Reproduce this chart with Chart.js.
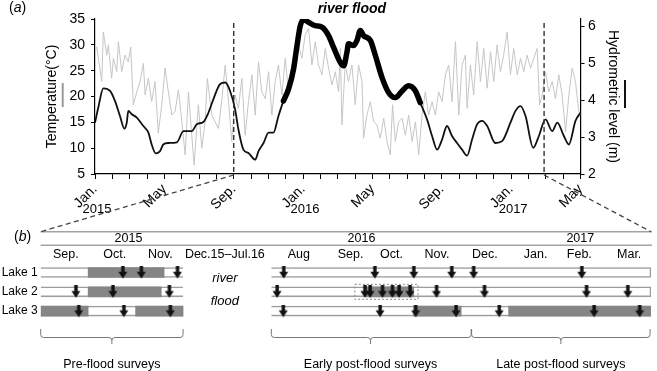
<!DOCTYPE html>
<html lang="en">
<head>
  <meta charset="UTF-8" />
  <title>River flood - temperature, hydrometric level and surveys</title>
  <script src="https://cdn.jsdelivr.net/npm/chart.js@4"></script>
  <style>
    body { margin: 0; background: #fff; }
    .wrap { position: relative; width: 657px; height: 371px; }
    .wrap canvas { position: absolute; left: 0; top: 0; }
  </style>
</head>
<body>
  <div class="wrap">
    <canvas id="chartTop" width="657" height="371"></canvas>
    <canvas id="chartSurveys" width="657" height="371"></canvas>
  </div>
  <script>
    // ---- panel (a): months since Jan 2015 ----
    const tickMonths = [0, 4, 8, 12, 16, 20, 24, 28];
    const tickNames = ["Jan.", "May", "Sep.", "Jan.", "May", "Sep.", "Jan.", "May"];
    const yearMonths = [0, 12, 24];
    const yearNames = ["2015", "2016", "2017"];
    const tempTicks = [5, 10, 15, 20, 25, 30, 35];
    const levelTicks = [2, 3, 4, 5, 6];
    const floodWindow = [10.87, 18.76];
    const surveyCuts = [8, 25.9];

    const tempMonth = [0,0.10,0.39,0.48,0.68,0.77,0.96,1.06,1.25,1.35,
      1.54,1.73,1.92,2.06,2.21,2.41,2.60,2.79,2.89,3.08,
      3.27,3.46,3.65,3.85,4.04,4.23,4.43,4.62,4.81,5.01,
      5.20,5.39,5.58,5.72,5.96,6.16,6.35,6.48,6.74,6.93,
      7.12,7.32,7.51,7.70,7.89,8.08,8.27,8.47,8.66,8.85,
      9.05,9.24,9.43,9.62,9.82,10.01,10.20,10.39,10.58,10.78,
      10.97,11.16,11.36,11.55,11.74,11.93,12.12,12.32,12.51,12.70,
      12.89,13.09,13.28,13.47,13.67,13.86,14.05,14.15,14.24,14.43,
      14.62,14.82,15.01,15.20,15.40,15.49,15.68,15.88,16.07,16.26,
      16.45,16.65,16.84,17.03,17.16,17.32,17.51,17.71,17.90,18.09,
      18.29,18.48,18.67,18.86,19.05,19.24,19.44,19.63,19.82,20.02,
      20.21,20.40,20.59,20.79,20.98,21.17,21.36,21.46,21.65,21.84,
      22.04,22.23,22.42,22.62,22.81,23.00,23.19,23.38,23.57,23.77,
      23.96,24.15,24.35,24.54,24.73,24.92,25.12,25.31,25.50,25.64,
      25.79,25.98,26.17,26.37,26.56,26.75,26.94,27.14,27.33,27.52,
      27.71,27.90,28.00];
    const tempValue = [28.7,29.6,22.9,32.5,28.0,30.0,23.5,27.4,24.8,30.6,
      24.8,28.0,26.7,29.6,18.4,20.9,22.9,26.4,20.3,23.5,
      19.0,22.9,12.9,18.4,25.5,20.9,16.4,17.1,21.3,15.1,
      8.7,20.9,12.5,6.7,18.4,10.0,15.1,23.5,16.4,15.1,
      13.8,19.6,26.1,19.0,11.3,20.3,17.7,23.5,12.5,19.0,
      24.2,16.4,26.7,20.9,19.6,24.8,16.4,22.9,26.1,20.3,
      27.4,20.9,26.1,28.0,30.0,27.4,31.9,33.2,26.1,30.6,
      26.1,24.2,29.3,25.5,22.2,24.8,20.9,29.3,14.5,26.1,
      22.9,26.1,18.4,26.1,22.9,11.9,16.4,19.0,15.1,14.5,
      11.9,15.8,11.3,8.7,18.4,11.3,15.1,15.8,12.5,16.4,
      11.3,15.1,8.7,16.4,20.9,16.4,19.0,16.4,20.9,19.0,
      24.2,26.1,19.0,30.6,16.4,26.1,28.0,17.7,26.1,20.3,
      30.6,22.9,29.3,21.6,28.7,22.9,30.0,24.8,28.0,32.5,
      24.2,29.3,24.2,27.4,24.8,28.0,25.5,27.4,29.3,18.4,
      20.3,24.8,20.9,22.9,19.6,24.2,20.3,13.2,20.3,25.5,
      22.9,17.1,16.4];

    const levelMonth = [0.00,0.19,0.48,0.87,1.15,1.44,1.69,1.83,1.92,2.12,
      2.41,2.79,3.08,3.27,3.50,3.75,3.94,4.23,4.72,5.10,
      5.58,5.87,6.25,6.54,6.83,7.22,7.51,7.79,8.08,8.27,
      8.56,8.85,9.24,9.43,9.72,10.01,10.29,10.58,10.87,11.16,
      11.45,11.65,11.84,12.03,12.32,12.70,13.09,13.47,13.76,14.15,
      14.34,14.53,14.62,14.91,15.11,15.30,15.49,15.88,16.17,16.55,
      16.93,17.32,17.71,18.09,18.48,18.76,19.15,19.44,19.73,20.02,
      20.30,20.59,20.88,21.17,21.46,21.75,22.04,22.33,22.62,23.09,
      23.48,23.96,24.25,24.54,24.83,25.27,25.60,25.98,26.37,26.66,
      27.04,27.33,27.71,28.00];
    const levelValue = [3.39,3.80,4.32,4.25,3.98,3.57,3.23,3.39,3.71,3.62,
      3.53,3.30,3.12,2.80,2.56,2.62,2.80,2.84,2.86,3.16,
      3.16,3.35,3.41,3.66,4.03,4.44,4.48,4.25,3.75,3.21,
      2.66,2.57,2.39,2.62,2.84,3.12,3.12,3.57,3.98,4.30,
      4.84,5.48,6.02,6.18,6.11,6.02,5.98,5.75,5.43,5.02,
      4.93,5.30,5.53,5.48,5.62,5.89,5.75,5.62,5.21,4.62,
      4.21,4.07,4.25,4.39,4.25,3.93,3.48,3.03,2.66,2.94,
      3.30,3.03,2.84,2.66,2.50,2.94,3.35,3.44,3.30,2.84,
      2.89,3.39,3.71,3.84,3.57,2.71,3.03,3.48,3.16,3.39,
      3.03,2.80,3.44,3.66];

    // ---- panel (b): survey calendar, x in month slots (Sep 2015 = 0) ----
    const lakes = ["Lake 1", "Lake 2", "Lake 3"];
    const slotNames = ["Sep.", "Oct.", "Nov.", "Dec.15\u2013Jul.16", "Aug", "Sep.", "Oct.", "Nov.", "Dec.", "Jan.", "Feb.", "Mar."];
    const slotCenters = [0.53, 1.56, 2.52, 3.88, 5.44, 6.53, 7.39, 8.35, 9.36, 10.43, 11.35, 12.40];
    const surveyYears = ["2015", "2016", "2017"];
    const surveyYearCenters = [1.85, 6.76, 11.37];
    const preSpan = [0, 3];
    const postSpan = [4.86, 12.86];
    const greyLake1 = [[1.0, 2.6]];
    const greyLake2 = [[1.0, 2.54], [6.86, 7.86]];
    const greyLake3 = [[0, 1.0], [2.0, 3.0], [7.86, 8.86], [9.86, 12.86]];
    const arrowsLake1 = [1.73, 2.12, 2.88, 5.12, 7.04, 7.86, 8.66, 9.12, 11.40];
    const arrowsLake2 = [0.74, 1.52, 2.71, 4.98, 6.83, 6.94, 7.20, 7.41, 7.55, 7.78, 8.34, 9.35, 11.50, 12.37];
    const arrowsLake3 = [0.80, 1.75, 2.73, 5.11, 7.15, 7.90, 8.75, 9.66, 11.66, 12.62];
    const highlightSlots = [6.62, 7.95];
    const braceSpans = [[0, 3], [4.86, 9.07], [9.08, 12.84]];
    const braceTips = [1.50, 6.95, 10.96];
    const braceNames = ["Pre-flood surveys", "Early post-flood surveys", "Late post-flood surveys"];

    const FONT = '"Liberation Sans", Arial, Helvetica, sans-serif';
    Chart.defaults.font.family = FONT;
    Chart.defaults.color = "#000";

    const pts = (xs, ys) => xs.map((x, i) => ({ x: x, y: ys[i] }));
    const levelPts = pts(levelMonth, levelValue);
    const floodPts = levelPts.filter(p => p.x >= floodWindow[0] && p.x <= floodWindow[1]);

    const decorTop = {
      id: "decorTop",
      afterDraw(chart) {
        const { ctx, chartArea, scales } = chart;
        const x = scales.x;
        ctx.save();
        ctx.strokeStyle = "#333";
        ctx.lineWidth = 1.4;
        ctx.setLineDash([5, 3]);
        surveyCuts.forEach(m => {
          const px = x.getPixelForValue(m);
          ctx.beginPath();
          ctx.moveTo(px, chartArea.top + 4);
          ctx.lineTo(px, chartArea.bottom);
          ctx.stroke();
        });
        ctx.setLineDash([]);

        ctx.fillStyle = "#000";
        ctx.textAlign = "center";
        ctx.textBaseline = "middle";
        ctx.font = "13px " + FONT;
        yearMonths.forEach((m, i) => ctx.fillText(yearNames[i], x.getPixelForValue(m) + 2, chartArea.bottom + 35));

        ctx.font = "italic bold 14px " + FONT;
        const mid = (x.getPixelForValue(floodWindow[0]) + x.getPixelForValue(floodWindow[1])) / 2;
        ctx.fillText("river flood", mid, 9);

        // panel letter (a)
        ctx.textAlign = "left";
        ctx.font = "14px " + FONT;
        let px = 9;
        ctx.fillText("(", px, 8); px += ctx.measureText("(").width;
        ctx.font = "italic 14px " + FONT;
        ctx.fillText("a", px, 8); px += ctx.measureText("a").width;
        ctx.font = "14px " + FONT;
        ctx.fillText(")", px, 8);

        // small line keys next to the axis titles
        ctx.lineWidth = 2;
        ctx.strokeStyle = "#9a9a9a";
        ctx.beginPath();
        ctx.moveTo(62.7, 83); ctx.lineTo(62.7, 107);
        ctx.stroke();
        ctx.strokeStyle = "#111";
        ctx.beginPath();
        ctx.moveTo(625, 80); ctx.lineTo(625, 108);
        ctx.stroke();
        ctx.restore();
      }
    };

    const topChart = new Chart(document.getElementById("chartTop"), {
      type: "line",
      data: {
        datasets: [
          { label: "flood", data: floodPts, yAxisID: "y1", borderColor: "#000", borderWidth: 5.5,
            pointRadius: 0, cubicInterpolationMode: "monotone", borderCapStyle: "round", order: 0 },
          { label: "Hydrometric level", data: levelPts, yAxisID: "y1", borderColor: "#111", borderWidth: 1.8,
            pointRadius: 0, cubicInterpolationMode: "monotone", order: 1 },
          { label: "Temperature", data: pts(tempMonth, tempValue), yAxisID: "y", borderColor: "#c6c6c6", borderWidth: 1,
            pointRadius: 0, tension: 0, order: 2 }
        ]
      },
      options: {
        responsive: false,
        animation: false,
        events: [],
        layout: { padding: { left: 40, right: 31.6, top: 19, bottom: 131 } },
        plugins: { legend: { display: false }, tooltip: { enabled: false } },
        scales: {
          x: {
            type: "linear", min: 0, max: 28,
            afterBuildTicks: s => { s.ticks = Array.from({ length: 29 }, (_, i) => ({ value: i })); },
            afterFit: s => { s.height = 66; },
            ticks: {
              autoSkip: false, minRotation: 45, maxRotation: 45, padding: 2,
              font: { size: 14 },
              callback: v => { const k = tickMonths.indexOf(v); return k < 0 ? "" : tickNames[k]; }
            },
            grid: { drawOnChartArea: false, tickLength: 5, color: "#000" },
            border: { color: "#000", width: 1.2 }
          },
          y: {
            position: "left", min: 5, max: 35,
            afterBuildTicks: s => { s.ticks = tempTicks.map(v => ({ value: v })); },
            afterFit: s => { s.width = 55; },
            ticks: { padding: 6, font: { size: 14 } },
            grid: { drawOnChartArea: false, tickLength: 4, color: "#000" },
            border: { color: "#000", width: 1.2 },
            title: { display: true, text: "Temperature(\u00B0C)", font: { size: 14 }, padding: { top: 4, bottom: 0 } }
          },
          y1: {
            position: "right", min: 2, max: 6.2,
            afterBuildTicks: s => { s.ticks = levelTicks.map(v => ({ value: v })); },
            afterFit: s => { s.width = 44.9; },
            ticks: { padding: 3.5, font: { size: 14 } },
            grid: { drawOnChartArea: false, tickLength: 4, color: "#000" },
            border: { color: "#000", width: 1.2 },
            title: { display: true, text: "Hydrometric level (m)", font: { size: 14 }, padding: { top: 4, bottom: 0 } }
          }
        }
      },
      plugins: [decorTop]
    });

    // arrow glyph used as point style
    const arrow = document.createElement("canvas");
    arrow.width = 10; arrow.height = 13;
    (function () {
      const c = arrow.getContext("2d");
      c.fillStyle = "#111";
      c.fillRect(3.4, 0, 3.4, 6.5);
      c.beginPath();
      c.moveTo(0.5, 5.8); c.lineTo(9.5, 5.8); c.lineTo(5.1, 12.6); c.closePath();
      c.fill();
    })();

    const boxes = [];
    lakes.forEach(l => { boxes.push({ y: l, x: preSpan }); boxes.push({ y: l, x: postSpan }); });
    const greys = [];
    [greyLake1, greyLake2, greyLake3].forEach((segs, i) => segs.forEach(s => greys.push({ y: lakes[i], x: s })));
    const arrowPts = [];
    [arrowsLake1, arrowsLake2, arrowsLake3].forEach((xs, i) => xs.forEach(x => arrowPts.push({ x: x, y: lakes[i] })));

    const decorSurveys = {
      id: "decorSurveys",
      afterDraw(chart) {
        const { ctx, chartArea, scales } = chart;
        const x = scales.x, y = scales.y;
        const top = chartArea.top;
        ctx.save();

        // header rules
        ctx.strokeStyle = "#a3a3a3";
        ctx.lineWidth = 1.6;
        [top - 31.2, top - 17.6].forEach(yy => {
          ctx.beginPath(); ctx.moveTo(chartArea.left, yy); ctx.lineTo(chartArea.right + 1, yy); ctx.stroke();
        });

        ctx.fillStyle = "#000";
        ctx.textAlign = "center";
        ctx.textBaseline = "middle";
        ctx.font = "12.5px " + FONT;
        surveyYearCenters.forEach((s, i) => ctx.fillText(surveyYears[i], x.getPixelForValue(s), top - 24.5));
        slotCenters.forEach((s, i) => ctx.fillText(slotNames[i], x.getPixelForValue(s), top - 8.5));

        // panel letter (b)
        ctx.textAlign = "left";
        ctx.font = "14px " + FONT;
        let px = 14;
        ctx.fillText("(", px, top - 25.5); px += ctx.measureText("(").width;
        ctx.font = "italic 14px " + FONT;
        ctx.fillText("b", px, top - 25.5); px += ctx.measureText("b").width;
        ctx.font = "14px " + FONT;
        ctx.fillText(")", px, top - 25.5);

        // flood gap note
        ctx.textAlign = "center";
        ctx.font = "italic 13px " + FONT;
        const gx = x.getPixelForValue(slotCenters[3]);
        ctx.fillText("river", gx, y.getPixelForValue(0) + 6);
        ctx.fillText("flood", gx, y.getPixelForValue(1) + 10);

        // dotted box round the October lake 2 surveys
        ctx.strokeStyle = "#8a8a8a";
        ctx.lineWidth = 1;
        ctx.setLineDash([2, 2]);
        const hx0 = x.getPixelForValue(highlightSlots[0]);
        const hx1 = x.getPixelForValue(highlightSlots[1]);
        const hy = y.getPixelForValue(1);
        ctx.strokeRect(hx0, hy - 7.5, hx1 - hx0, 15);
        ctx.setLineDash([]);

        // braces
        ctx.strokeStyle = "#777";
        ctx.lineWidth = 1;
        const b0 = chartArea.bottom + 8.3, b1 = b0 + 8.5, b2 = b1 + 6.5;
        braceSpans.forEach((sp, i) => {
          const x0 = x.getPixelForValue(sp[0]), x1 = x.getPixelForValue(sp[1]), t = x.getPixelForValue(braceTips[i]);
          ctx.beginPath();
          ctx.moveTo(x0, b0); ctx.lineTo(x0, b1 - 3);
          ctx.quadraticCurveTo(x0, b1, x0 + 3, b1);
          ctx.lineTo(t - 3, b1);
          ctx.quadraticCurveTo(t, b1, t, b1 + 3);
          ctx.lineTo(t, b2);
          ctx.moveTo(t, b1 + 3);
          ctx.quadraticCurveTo(t, b1, t + 3, b1);
          ctx.lineTo(x1 - 3, b1);
          ctx.quadraticCurveTo(x1, b1, x1, b1 - 3);
          ctx.lineTo(x1, b0);
          ctx.stroke();
          ctx.fillStyle = "#000";
          ctx.font = "12.5px " + FONT;
          ctx.fillText(braceNames[i], t, chartArea.bottom + 43.5);
        });

        // dashed connectors from panel (a)
        const tx = topChart.scales.x;
        const tb = topChart.chartArea.bottom + 1;
        ctx.strokeStyle = "#444";
        ctx.lineWidth = 1.3;
        ctx.setLineDash([5, 3.5]);
        ctx.beginPath();
        ctx.moveTo(tx.getPixelForValue(surveyCuts[0]), tb);
        ctx.lineTo(chartArea.left, top - 31.2);
        ctx.moveTo(tx.getPixelForValue(surveyCuts[1]), tb);
        ctx.lineTo(chartArea.right, top - 31.2);
        ctx.stroke();
        ctx.restore();
      }
    };

    new Chart(document.getElementById("chartSurveys"), {
      type: "bar",
      data: {
        datasets: [
          { type: "scatter", data: arrowPts, pointStyle: arrow, pointRadius: 5, order: 0 },
          { indexAxis: "y", data: greys, backgroundColor: "#858585", borderColor: "#858585",
            borderWidth: 0, borderSkipped: false, barThickness: 10, grouped: false, order: 1 },
          { indexAxis: "y", data: boxes, backgroundColor: "#fff", borderColor: "#9d9d9d",
            borderWidth: ctx => ({ top: 1.6, bottom: 1.6, left: 0, right: ctx.raw && ctx.raw.x[1] > 12 ? 1.6 : 0 }),
            borderSkipped: false, barThickness: 10, grouped: false, order: 2 }
        ]
      },
      options: {
        responsive: false,
        animation: false,
        events: [],
        layout: { padding: { left: 0, right: 2.9, top: 262.9, bottom: 50.3 } },
        plugins: { legend: { display: false }, tooltip: { enabled: false } },
        scales: {
          x: { type: "linear", min: 0, max: 12.86, offset: false, display: false, grid: { offset: false } },
          y: {
            type: "category", labels: lakes, offset: true,
            afterFit: s => { s.width = 40.7; },
            ticks: { padding: 3, font: { size: 12 } },
            grid: { display: false, drawTicks: false },
            border: { display: false }
          }
        }
      },
      plugins: [decorSurveys]
    });
  </script>
</body>
</html>
